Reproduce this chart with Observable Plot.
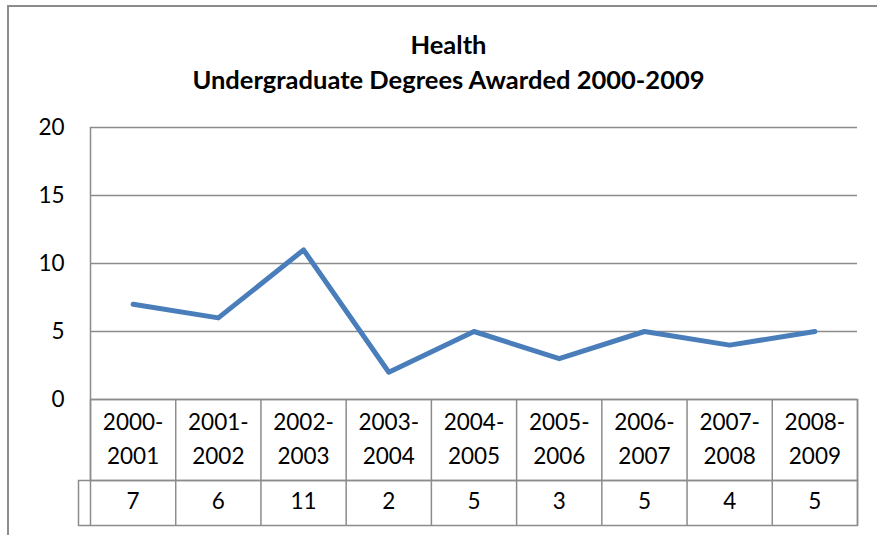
<!DOCTYPE html>
<html><head><meta charset="utf-8">
<script src="https://cdn.jsdelivr.net/npm/d3@7"></script>
<script src="https://cdn.jsdelivr.net/npm/@observablehq/plot@0.6"></script>
<style>
body{margin:0;background:#fff;}
#wrap{position:relative;width:877px;height:535px;overflow:hidden;font-family:Lato,sans-serif;background:#fff;}
#border{position:absolute;left:7px;top:5px;width:1000px;height:1000px;border:2px solid #8c8c8c;box-sizing:border-box;}
.t{position:absolute;left:0;width:897px;text-align:center;font-weight:bold;font-size:25.5px;line-height:30px;color:#000;}
.p{position:absolute;left:0;}
</style></head>
<body>
<div id="wrap">
  <div id="border"></div>
  <div class="t" style="top:29px">Health</div>
  <div class="t" style="top:64px">Undergraduate Degrees Awarded 2000-2009</div>
  <div class="p" id="main" style="top:0"></div>
  <div class="p" id="hdr" style="top:399px"></div>
  <div class="p" id="val" style="top:480px"></div>
</div>
<script>
const categories = ["2000-2001","2001-2002","2002-2003","2003-2004","2004-2005","2005-2006","2006-2007","2007-2008","2008-2009"];
const degrees = [7, 6, 11, 2, 5, 3, 5, 4, 5];
const yTicks = [0, 5, 10, 15, 20];

const grid = "#8c8c8c";
const font = {fontFamily: "Lato, sans-serif", fontSize: "22px", color: "#000", background: "transparent", overflow: "visible"};
const n = categories.length;
const bounds = d3.range(n + 1);

const main = Plot.plot({
  width: 877, height: 400, marginTop: 127, marginBottom: 1, marginLeft: 90, marginRight: 20,
  style: font,
  x: {domain: [0, n], axis: null},
  y: {domain: [0, 20], axis: null},
  marks: [
    Plot.ruleY(yTicks, {stroke: grid, strokeWidth: 1.5}),
    Plot.ruleX([0], {stroke: grid, strokeWidth: 1.5}),
    Plot.axisY(yTicks, {tickSize: 0, tickPadding: 26, fontSize: 22.5, label: null}),
    Plot.line(degrees, {x: (d, i) => i + 0.5, y: d => d, stroke: "#4a7ebb", strokeWidth: 5, strokeLinejoin: "round", strokeLinecap: "round"})
  ]
});
document.getElementById("main").append(main);

const hdr = Plot.plot({
  width: 877, height: 82, marginTop: 0, marginBottom: 1, marginLeft: 90, marginRight: 20,
  style: font,
  x: {domain: [0, n], axis: null},
  marks: [
    Plot.frame({stroke: grid, strokeWidth: 1.5}),
    Plot.ruleX(bounds, {stroke: grid, strokeWidth: 1.5}),
    Plot.text(categories, {x: (d, i) => i + 0.5, text: d => d.replace("-", "-\n"), fontSize: 22.5, lineHeight: 1.5, frameAnchor: "middle", dy: -4, fill: "#000"})
  ]
});
document.getElementById("hdr").append(hdr);

const val = Plot.plot({
  width: 877, height: 46, marginTop: 0, marginBottom: 1, marginLeft: 78, marginRight: 20,
  style: font,
  x: {domain: [0, n], range: [90, 857], axis: null},
  marks: [
    Plot.frame({stroke: grid, strokeWidth: 1.5}),
    Plot.ruleX(bounds, {stroke: grid, strokeWidth: 1.5}),
    Plot.text(degrees, {x: (d, i) => i + 0.5, text: d => String(d), fontSize: 22.5, frameAnchor: "middle", dy: -1, fill: "#000"})
  ]
});
document.getElementById("val").append(val);
</script>
</body></html>
